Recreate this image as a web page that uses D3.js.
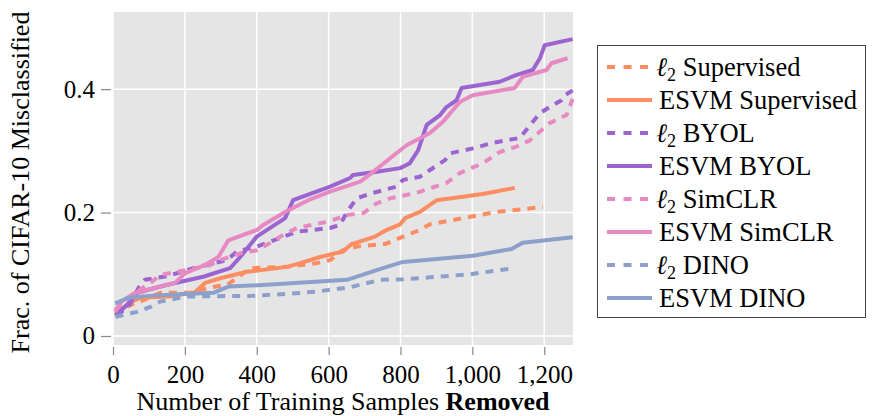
<!DOCTYPE html>
<html>
<head>
<meta charset="utf-8">
<script src="https://cdn.jsdelivr.net/npm/d3@7"></script>
<style>
  body { margin: 0; background: #fff; }
  text { font-family: "Liberation Serif", "Times New Roman", serif; fill: #000; }
</style>
</head>
<body>
<svg id="chart"></svg>
<script>
var width = 873,
    height = 416;

// series: [samples removed, fraction misclassified]
var l2Supervised = [[7,0.031],[43,0.049],[85,0.058],[132,0.070],[224,0.070],[262,0.078],[317,0.083],[345,0.094],[382,0.110],[484,0.112],[567,0.118],[604,0.123],[640,0.139],[678,0.145],[757,0.149],[807,0.161],[854,0.172],[882,0.181],[974,0.191],[1067,0.201],[1196,0.209]];
var esvmSupervised = [[6,0.034],[43,0.053],[76,0.062],[154,0.064],[228,0.071],[256,0.086],[301,0.094],[373,0.104],[484,0.112],[521,0.118],[576,0.128],[640,0.137],[664,0.149],[729,0.161],[762,0.172],[799,0.181],[813,0.191],[854,0.201],[901,0.220],[1029,0.230],[1118,0.240]];
var l2Byol = [[10,0.034],[43,0.047],[71,0.078],[89,0.091],[151,0.097],[224,0.110],[317,0.123],[345,0.137],[401,0.145],[465,0.159],[512,0.169],[604,0.175],[632,0.180],[651,0.201],[678,0.223],[724,0.232],[789,0.242],[807,0.253],[854,0.258],[882,0.269],[924,0.285],[938,0.296],[1001,0.304],[1057,0.313],[1132,0.321],[1154,0.337],[1188,0.361],[1215,0.371],[1248,0.382],[1257,0.390],[1279,0.398]];
var esvmByol = [[7,0.034],[39,0.050],[67,0.070],[151,0.083],[251,0.096],[326,0.110],[354,0.128],[400,0.161],[479,0.191],[501,0.220],[604,0.242],[660,0.256],[668,0.261],[734,0.266],[799,0.272],[826,0.280],[849,0.301],[873,0.342],[910,0.358],[928,0.371],[956,0.382],[970,0.402],[1076,0.412],[1123,0.423],[1168,0.431],[1188,0.450],[1201,0.471],[1279,0.481]];
var l2Simclr = [[6,0.042],[49,0.065],[104,0.086],[132,0.099],[206,0.107],[271,0.115],[299,0.123],[354,0.134],[401,0.139],[438,0.151],[474,0.164],[512,0.175],[604,0.186],[651,0.196],[696,0.199],[734,0.215],[771,0.223],[845,0.232],[928,0.248],[965,0.264],[1029,0.280],[1076,0.298],[1123,0.307],[1160,0.317],[1215,0.345],[1262,0.358],[1279,0.384]];
var esvmSimclr = [[6,0.039],[24,0.056],[62,0.070],[117,0.078],[173,0.086],[201,0.102],[256,0.115],[293,0.128],[321,0.155],[401,0.172],[418,0.180],[479,0.201],[543,0.220],[604,0.234],[688,0.250],[724,0.266],[771,0.288],[817,0.309],[882,0.329],[918,0.347],[938,0.361],[965,0.379],[1001,0.390],[1118,0.402],[1140,0.420],[1206,0.431],[1220,0.442],[1265,0.450]];
var l2Dino = [[7,0.031],[67,0.039],[104,0.047],[132,0.056],[206,0.064],[382,0.065],[484,0.068],[567,0.072],[660,0.079],[743,0.091],[807,0.092],[882,0.095],[993,0.100],[1118,0.110]];
var esvmDino = [[6,0.053],[43,0.062],[99,0.065],[196,0.068],[279,0.070],[321,0.080],[428,0.083],[651,0.091],[751,0.110],[807,0.120],[1001,0.130],[1109,0.141],[1140,0.151],[1279,0.160]];

var seriesNames = ["Supervised", "Supervised", "BYOL", "BYOL", "SimCLR", "SimCLR", "DINO", "DINO"];
var seriesKinds = ["l2", "esvm", "l2", "esvm", "l2", "esvm", "l2", "esvm"];
var seriesData = [l2Supervised, esvmSupervised, l2Byol, esvmByol, l2Simclr, esvmSimclr, l2Dino, esvmDino];
var seriesColors = ["#fc8d62", "#fc8d62", "#9b64d0", "#9b64d0", "#e78ac3", "#e78ac3", "#8da0cb", "#8da0cb"];

var xTicks = [0, 200, 400, 600, 800, 1000, 1200];
var yTicks = [0, 0.2, 0.4];

var plot = {left: 113, top: 12, right: 573, bottom: 345};

var x = d3.scaleLinear()
    .domain([0, 1280])
    .range([plot.left, plot.right]);

var y = d3.scaleLinear()
    .domain([-0.0146, 0.525])
    .range([plot.bottom, plot.top]);

var svg = d3.select("#chart")
    .attr("width", width)
    .attr("height", height);

svg.append("rect")
    .attr("x", plot.left)
    .attr("y", plot.top)
    .attr("width", plot.right - plot.left)
    .attr("height", plot.bottom - plot.top)
    .attr("fill", "#e5e5e5");

// grid
svg.append("g").selectAll("line")
    .data(xTicks)
    .enter().append("line")
    .attr("x1", function (d) { return x(d); })
    .attr("x2", function (d) { return x(d); })
    .attr("y1", plot.top)
    .attr("y2", plot.bottom)
    .attr("stroke", "#fff")
    .attr("stroke-width", 1.5);

svg.append("g").selectAll("line")
    .data(yTicks)
    .enter().append("line")
    .attr("x1", plot.left)
    .attr("x2", plot.right)
    .attr("y1", function (d) { return y(d); })
    .attr("y2", function (d) { return y(d); })
    .attr("stroke", "#fff")
    .attr("stroke-width", 1.5);

// axes
var xAxis = d3.axisBottom(x)
    .tickValues(xTicks)
    .tickSize(8)
    .tickPadding(10)
    .tickFormat(d3.format(",d"));

var yAxis = d3.axisLeft(y)
    .tickValues(yTicks)
    .tickSize(10)
    .tickPadding(6)
    .tickFormat(function (d) { return d === 0 ? "0" : d3.format(".1f")(d); });

var gx = svg.append("g")
    .attr("transform", "translate(0," + (plot.bottom + 2) + ")")
    .call(xAxis);
var gy = svg.append("g")
    .attr("transform", "translate(" + (plot.left - 2) + ",0)")
    .call(yAxis);

[gx, gy].forEach(function (g) {
    g.select(".domain").remove();
    g.selectAll(".tick line").attr("stroke", "#888").attr("stroke-width", 1.2);
    g.selectAll(".tick text")
        .attr("fill", "#000")
        .style("font-family", "'Liberation Serif', serif")
        .style("font-size", "25px");
});

// lines
var line = d3.line()
    .x(function (d) { return x(d[0]); })
    .y(function (d) { return y(d[1]); });

svg.append("g").selectAll("path")
    .data(seriesData)
    .enter().append("path")
    .attr("d", line)
    .attr("fill", "none")
    .attr("stroke", function (d, i) { return seriesColors[i]; })
    .attr("stroke-width", 4)
    .attr("stroke-linejoin", "round")
    .attr("stroke-dasharray", function (d, i) { return seriesKinds[i] === "l2" ? "8,7" : null; });

// axis titles
svg.append("text")
    .attr("x", (plot.left + plot.right) / 2)
    .attr("y", 410)
    .attr("text-anchor", "middle")
    .style("font-size", "26px")
    .html("Number of Training Samples <tspan font-weight='bold'>Removed</tspan>");

svg.append("text")
    .attr("transform", "translate(29," + ((plot.top + plot.bottom) / 2 + 4) + ") rotate(-90)")
    .attr("text-anchor", "middle")
    .style("font-size", "26px")
    .text("Frac. of CIFAR-10 Misclassified");

// legend
var legend = svg.append("g");
legend.append("rect")
    .attr("x", 597.5)
    .attr("y", 45.5)
    .attr("width", 268)
    .attr("height", 272)
    .attr("fill", "#fff")
    .attr("stroke", "#444")
    .attr("stroke-width", 1);

var items = legend.selectAll("g.item")
    .data(seriesNames)
    .enter().append("g")
    .attr("class", "item")
    .attr("transform", function (d, i) { return "translate(0," + (67 + i * 33) + ")"; });

items.append("line")
    .attr("x1", 607)
    .attr("x2", 652)
    .attr("stroke", function (d, i) { return seriesColors[i]; })
    .attr("stroke-width", 4)
    .attr("stroke-dasharray", function (d, i) { return seriesKinds[i] === "l2" ? "8,8.5" : null; });

items.each(function (d, i) {
    var t = d3.select(this).append("text")
        .attr("y", 9)
        .style("font-size", "26.5px");
    if (seriesKinds[i] === "l2") {
        t.attr("x", 656);
        t.append("tspan").style("font-style", "italic").text("\u2113");
        t.append("tspan").attr("dy", 5).style("font-size", "18px").text("2");
        t.append("tspan").attr("dy", -5).text(" " + d);
    } else {
        t.attr("x", 659).text("ESVM " + d);
    }
});
</script>
</body>
</html>
